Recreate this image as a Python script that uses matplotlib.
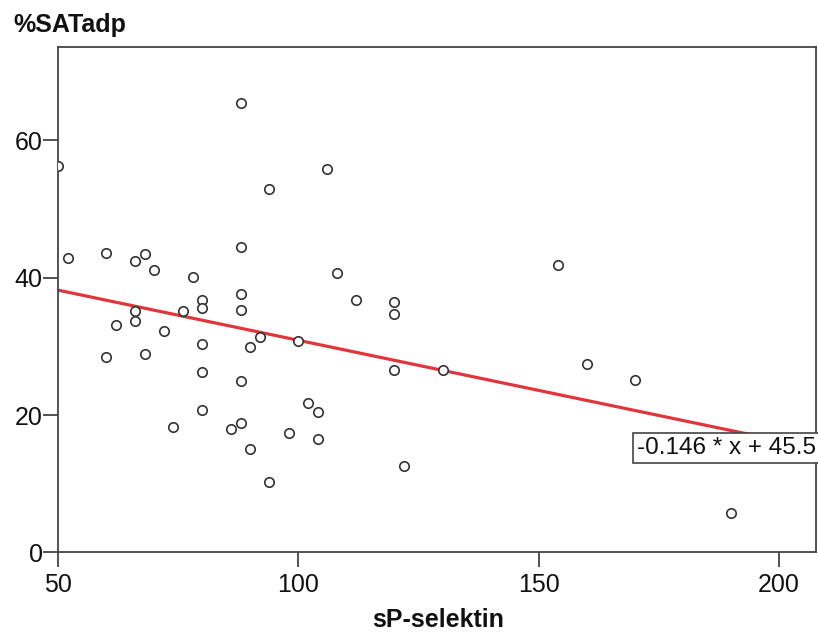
import numpy as np
import matplotlib
matplotlib.use("Agg")
import matplotlib.pyplot as plt

plt.rcParams["font.family"] = ["Liberation Sans", "DejaVu Sans"]

# sP-selektin vs %SATadp, one point per patient
sp_selektin = [50, 52, 60, 66, 68, 70, 78, 88, 88, 88,
               80, 80, 76, 66, 66, 62, 72, 60, 68, 80,
               92, 90, 100, 80, 88, 80, 74, 86, 88, 98,
               90, 94, 88, 94, 106, 108, 112, 120, 120, 120,
               130, 102, 104, 104, 122, 154, 160, 170, 190]
sat_adp = [56.3, 42.9, 43.6, 42.4, 43.4, 41.2, 40.1, 44.5, 37.6, 35.3,
           36.7, 35.6, 35.1, 35.2, 33.7, 33.1, 32.3, 28.5, 28.9, 30.3,
           31.4, 29.9, 30.8, 26.3, 25.0, 20.8, 18.3, 18.0, 18.9, 17.4,
           15.1, 10.3, 65.5, 52.9, 55.8, 40.7, 36.7, 36.5, 34.7, 26.5,
           26.6, 21.7, 20.5, 16.5, 12.6, 41.9, 27.4, 25.1, 5.8]

# linear fit coefficients
slope = -0.146
intercept = 45.5

x_ticks = [50, 100, 150, 200]
y_ticks = [0, 20, 40, 60]
xmin, xmax = 50, 207.7
ymin, ymax = 0, 73.6

fig = plt.figure(figsize=(8.18, 6.32), dpi=100)
ax = fig.add_axes([0.0709, 0.1258, 0.9267, 0.7998])

ax.plot(sp_selektin, sat_adp, linestyle="none", marker="o", markersize=6.8,
        markerfacecolor="white", markeredgecolor="#333333", markeredgewidth=1.2,
        zorder=3)

xs = np.array([xmin, xmax])
ax.plot(xs, slope * xs + intercept, color="#e0363b", linewidth=2.3, zorder=2)

ax.set_xlim(xmin, xmax)
ax.set_ylim(ymin, ymax)
ax.set_xticks(x_ticks)
ax.set_yticks(y_ticks)
ax.tick_params(axis="both", direction="out", length=11, width=1.3,
               color="#444444", labelsize=18, labelcolor="#111111")
ax.tick_params(axis="x", pad=4)
ax.tick_params(axis="y", pad=0)
for side in ax.spines.values():
    side.set_color("#444444")
    side.set_linewidth(1.3)

# equation label at the end of the fit line
ax.text(xmax, 15.2, "-0.146 * x + 45.5", ha="right", va="center", fontsize=17.5,
        color="#111111", zorder=4,
        bbox=dict(boxstyle="square,pad=0.16", facecolor="white",
                  edgecolor="#444444", linewidth=1.2))

fig.text(0.016, 0.960, "%SATadp", fontsize=18, fontweight="bold",
         ha="left", va="center", color="#111111")
fig.text(0.535, 0.019, "sP-selektin", fontsize=18, fontweight="bold",
         ha="center", va="center", color="#111111")

fig.savefig("out.png", dpi=100)
